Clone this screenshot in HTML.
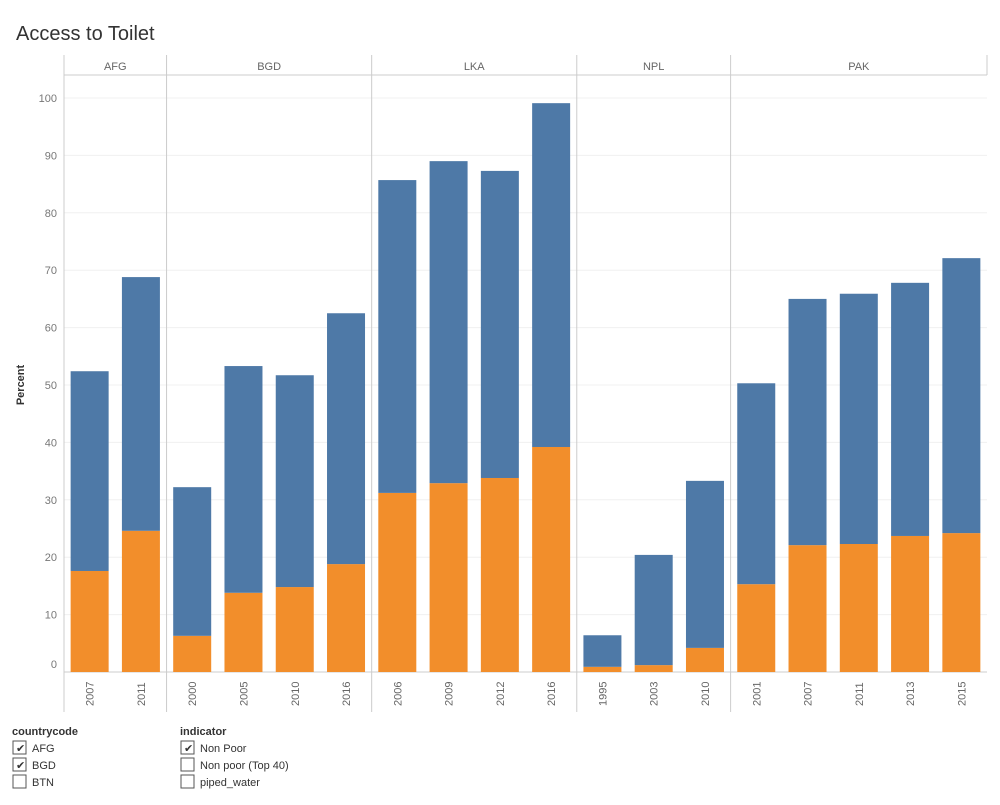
<!DOCTYPE html>
<html><head><meta charset="utf-8"><style>
body{margin:0;background:#fff;font-family:"Liberation Sans",sans-serif;}
</style></head><body>
<svg id="c" width="1000" height="800" xmlns="http://www.w3.org/2000/svg" font-family="Liberation Sans, sans-serif">
<text x="16" y="40" font-size="20" fill="#333">Access to Toilet</text>
<text transform="translate(24,385) rotate(-90)" text-anchor="middle" font-size="11" font-weight="bold" fill="#333">Percent</text>
<g id="grid"></g><g id="bars"></g><g id="axes"></g>
<g font-size="11" fill="#333">
<text x="12" y="735" font-weight="bold">countrycode</text>
<rect x="13" y="741" width="13" height="13" fill="#fff" stroke="#555"/><text x="16" y="752" font-size="11">✔</text><text x="32" y="752">AFG</text>
<rect x="13" y="758" width="13" height="13" fill="#fff" stroke="#555"/><text x="16" y="769" font-size="11">✔</text><text x="32" y="769">BGD</text>
<rect x="13" y="775" width="13" height="13" fill="#fff" stroke="#555"/><text x="32" y="786">BTN</text>
</g>
<g font-size="11" fill="#333">
<text x="180" y="735" font-weight="bold">indicator</text>
<rect x="181" y="741" width="13" height="13" fill="#fff" stroke="#555"/><text x="184" y="752">✔</text><text x="200" y="752">Non Poor</text>
<rect x="181" y="758" width="13" height="13" fill="#fff" stroke="#555"/><text x="200" y="769">Non poor (Top 40)</text>
<rect x="181" y="775" width="13" height="13" fill="#fff" stroke="#555"/><text x="200" y="786">piped_water</text>
</g>
</svg>
<script>
const countries=["AFG","BGD","LKA","NPL","PAK"];
const years=[["2007","2011"],["2000","2005","2010","2016"],["2006","2009","2012","2016"],["1995","2003","2010"],["2001","2007","2011","2013","2015"]];
const orangeVals=[17.6,24.6,6.3,13.8,14.8,18.8,31.2,32.9,33.8,39.2,0.9,1.2,4.2,15.3,22.1,22.3,23.7,24.2];
const blueVals=[34.8,44.2,25.9,39.5,36.9,43.7,54.5,56.1,53.5,59.9,5.5,19.2,29.1,35.0,42.9,43.6,44.1,47.9];
const yTicks=[0,10,20,30,40,50,60,70,80,90,100];
const NS="http://www.w3.org/2000/svg";
const X0=64,X1=987,TOP=55,HDR=75,BOT=712,Y0=672;
const colW=(X1-X0)/orangeVals.length;
const y=v=>Y0-v*5.74;
function mk(t,a,p){const e=document.createElementNS(NS,t);for(const k in a)e.setAttribute(k,a[k]);p.appendChild(e);return e;}
const grid=document.getElementById('grid'),bars=document.getElementById('bars'),axes=document.getElementById('axes');
yTicks.forEach(t=>{
 const l=mk('line',{x1:X0,x2:X1,y1:y(t),y2:y(t),stroke:t===0?'#ccc':'#f0f0f0'},grid);
 
 
 const tx=mk('text',{x:57,y:y(t)+(t===0?-4:4),'text-anchor':'end','font-size':11,fill:'#777'},axes);
 tx.textContent=t;
 
 
});
mk('line',{x1:X0,x2:X0,y1:TOP,y2:BOT,stroke:'#ccc'},axes);
mk('line',{x1:X0,x2:X1,y1:HDR,y2:HDR,stroke:'#ccc'},axes);
mk('line',{x1:X1,x2:X1,y1:TOP,y2:HDR,stroke:'#ccc'},axes);
let idx=0;
countries.forEach((c,ci)=>{
 const px=X0+idx*colW,pw=years[ci].length*colW;
 if(ci>0)mk('line',{x1:px,x2:px,y1:TOP,y2:BOT,stroke:'#ccc'},axes);
 const h=mk('text',{x:px+pw/2,y:70,'text-anchor':'middle','font-size':11,fill:'#666'},axes);
 h.textContent=c;
 
 
 years[ci].forEach(yr=>{
  const cx=X0+(idx+0.5)*colW,o=orangeVals[idx],b=blueVals[idx];
  const r1=mk('rect',{x:cx-19,width:38,y:y(o),height:Y0-y(o),fill:'#f28e2b'},bars);
  
  
  const r2=mk('rect',{x:cx-19,width:38,y:y(o+b),height:y(o)-y(o+b),fill:'#4e79a7'},bars);
  
  
  const t=mk('text',{transform:`translate(${cx+4},706) rotate(-90)`,'font-size':11,fill:'#666'},axes);
  t.textContent=yr;
  
  
  idx++;
 });
});
</script>
</body></html>
